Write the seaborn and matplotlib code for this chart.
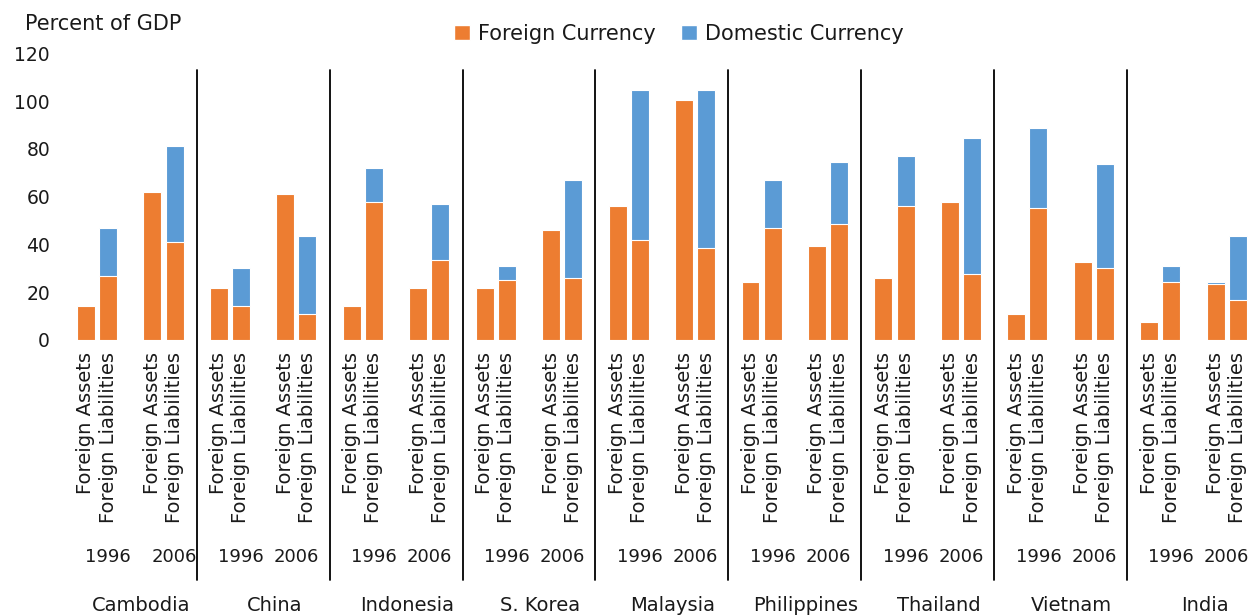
import matplotlib
matplotlib.use("Agg")
import matplotlib.pyplot as plt
from matplotlib.patches import Patch
import numpy as np
import pandas as pd
import seaborn as sns

countries = ["Cambodia", "China", "Indonesia", "S. Korea", "Malaysia",
             "Philippines", "Thailand", "Vietnam", "India"]
years = ["1996", "2006"]
items = ["Foreign Assets", "Foreign Liabilities"]

# percent of GDP, foreign-currency part and domestic-currency part
assets_fc_1996 = [14.3, 21.8, 14.3, 21.8, 56.1, 24.3, 26.1, 10.9, 7.5]
assets_dc_1996 = [0, 0, 0, 0, 0, 0, 0, 0, 0]
liab_fc_1996 = [26.8, 14.3, 57.7, 25.1, 41.8, 46.9, 56.1, 55.2, 24.3]
liab_dc_1996 = [19.9, 15.8, 14.3, 6.0, 62.8, 20.0, 20.9, 33.5, 6.7]
assets_fc_2006 = [61.8, 61.1, 21.8, 46.0, 100.4, 39.3, 57.7, 32.6, 23.4]
assets_dc_2006 = [0, 0, 0, 0, 0, 0, 0, 0, 0.9]
liab_fc_2006 = [41.0, 10.9, 33.5, 26.1, 38.5, 48.5, 27.6, 30.1, 16.7]
liab_dc_2006 = [40.2, 32.6, 23.4, 40.8, 66.1, 26.0, 56.9, 43.5, 26.8]

ORANGE = "#ED7D31"
BLUE = "#5B9BD5"
TXT = "#1a1a1a"


def main() -> None:
    series = {
        ("1996", "Foreign Assets"): (assets_fc_1996, assets_dc_1996),
        ("1996", "Foreign Liabilities"): (liab_fc_1996, liab_dc_1996),
        ("2006", "Foreign Assets"): (assets_fc_2006, assets_dc_2006),
        ("2006", "Foreign Liabilities"): (liab_fc_2006, liab_dc_2006),
    }
    rows = []
    for k, c in enumerate(countries):
        for j, yr in enumerate(years):
            for m, it in enumerate(items):
                fc, dc = series[(yr, it)]
                rows.append({"country": c, "year": yr, "item": it,
                             "pos": 6 * k + 3 * j + m,
                             "fc": fc[k], "dc": dc[k], "total": fc[k] + dc[k]})
    df = pd.DataFrame(rows)

    sns.set_theme(style="white")
    plt.rcParams["font.family"] = ["DejaVu Sans"]
    plt.rcParams["text.color"] = TXT

    fig = plt.figure(figsize=(12.54, 6.15), dpi=100)
    ax = fig.add_axes([64 / 1254, 0.4472, (1254 - 64) / 1254, 0.4661])

    bar_kw = dict(native_scale=True, saturation=1, width=0.81, errorbar=None,
                  edgecolor="white", linewidth=0.8, ax=ax)
    # full stack in blue, foreign-currency part drawn over it in orange
    sns.barplot(data=df, x="pos", y="total", color=BLUE, **bar_kw)
    sns.barplot(data=df, x="pos", y="fc", color=ORANGE, **bar_kw)

    ax.set_xlim(-0.99, 52.73)
    ax.set_ylim(0, 120)
    ax.set_xticks([])
    ax.set_yticks(np.arange(0, 121, 20))
    ax.tick_params(axis="y", length=0, pad=10, labelsize=13.5, labelcolor=TXT)
    ax.set_xlabel("")
    ax.set_ylabel("")
    for s in ax.spines.values():
        s.set_visible(False)

    # multi-level category labels
    for _, r in df.iterrows():
        ax.text(r["pos"], -5.2, r["item"], rotation=90, ha="center", va="top",
                fontsize=14, color=TXT, clip_on=False)
    for k, c in enumerate(countries):
        ax.text(6 * k + 1, -90.8, "1996", ha="center", va="center",
                fontsize=13, color=TXT, clip_on=False)
        x06 = 6 * k + (4 if k == 0 else 3.5)
        ax.text(x06, -90.8, "2006", ha="center", va="center",
                fontsize=13, color=TXT, clip_on=False)
        ax.text(6 * k + 2.5, -107, c, ha="center", va="top",
                fontsize=14, color=TXT, clip_on=False)
        if k > 0:
            ax.plot([6 * k - 1, 6 * k - 1], [113, -100.4], color="black",
                    lw=1.3, clip_on=False)

    fig.text(25 / 1254, 1 - 24 / 615, "Percent of GDP", ha="left", va="center",
             fontsize=15, color=TXT)
    handles = [Patch(facecolor=ORANGE, label="Foreign Currency"),
               Patch(facecolor=BLUE, label="Domestic Currency")]
    fig.legend(handles=handles, loc="center", bbox_to_anchor=(0.5415, 1 - 34 / 615),
               ncol=2, frameon=False, fontsize=15, handlelength=0.75,
               handleheight=0.75, handletextpad=0.4, columnspacing=1.2)

    fig.savefig("out.png", dpi=100)
    plt.close(fig)


if __name__ == "__main__":
    main()
